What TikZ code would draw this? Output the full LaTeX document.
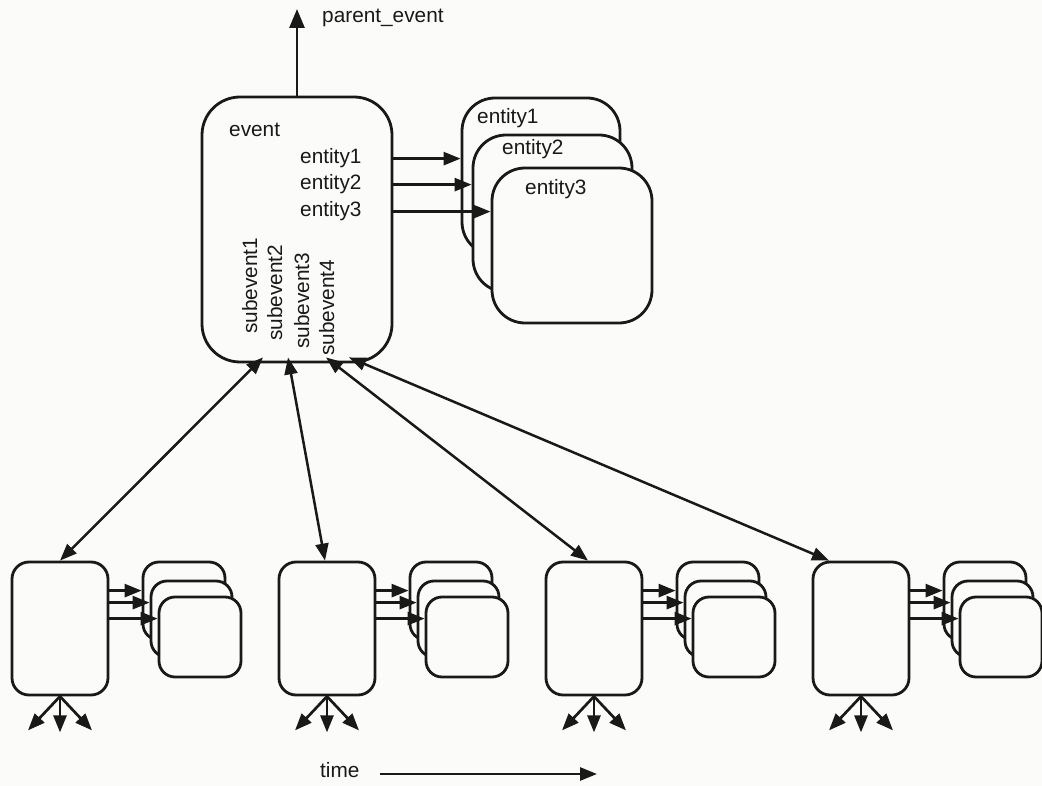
\documentclass[tikz,border=0pt]{standalone}
\usepackage{fontspec}
\setmainfont{Liberation Sans}
\usetikzlibrary{arrows.meta,calc}
\definecolor{bg}{RGB}{251,251,249}
\definecolor{ink}{RGB}{25,25,25}
\begin{document}
\begin{tikzpicture}[x=1pt,y=-1pt,
  box/.style={draw=ink, line width=2.8pt, fill=bg, rounded corners=#1, inner sep=0pt},
  box/.default=17pt,
  lbl/.style={inner sep=0pt, anchor=base west, text=ink, font=\fontsize{20.8}{24}\selectfont},
  arr/.style={draw=ink, line width=2.7pt, -{Triangle[length=17pt,width=13pt]}},
  arrb/.style={draw=ink, line width=2.5pt, {Triangle[length=17pt,width=13pt]}-{Triangle[length=17pt,width=13pt]}},
  arrp/.style={draw=ink, line width=2.8pt, -{Triangle[length=19pt,width=15pt]}}
]
\fill[bg] (0,0) rectangle (1042,786);
\useasboundingbox (0,0) rectangle (1042,786);

% main event box
\node[box=38pt, minimum width=190pt, minimum height=265pt] (ev) at (297,229.5) {};
% big entity boxes
\node[box=33pt, minimum width=158pt, minimum height=157pt] (E1) at (541,176.5) {};
\node[box=33pt, minimum width=159pt, minimum height=157pt] (E2) at (552.5,213.5) {};
\node[box=33pt, minimum width=160pt, minimum height=155pt] (E3) at (572,245.5) {};

% labels
\node[lbl] (evl) at (229,137) {event};
\node[lbl] (t1) at (300,164) {entity1};
\node[lbl] (t2) at (300,190) {entity2};
\node[lbl] (t3) at (300,217) {entity3};
\node[lbl] (E1l) at (477,124) {entity1};
\node[lbl] (E2l) at (502,155) {entity2};
\node[lbl] (E3l) at (525,195) {entity3};
\node[lbl, rotate=90] (s1) at (257,334) {subevent1};
\node[lbl, rotate=90] (s2) at (282,341) {subevent2};
\node[lbl, rotate=90] (s3) at (309,349) {subevent3};
\node[lbl, rotate=90] (s4) at (334,356) {subevent4};
\node[lbl] (pl) at (322,23) {parent\_event};

% parent arrow
\coordinate (par) at (297,9);
\draw[arrp] (ev.north) -- (par);

% entity arrows
\draw[arr] (ev.east |- t1) -- (E1.west |- t1);
\draw[arr] (ev.east |- t2) -- (E2.west |- t2);
\draw[arr] (ev.east |- t3) -- (E3.west |- t3);

% child groups
\foreach \i in {0,1,2,3}{
  \pgfmathsetmacro{\L}{12+267*\i}
  \node[box=16pt, minimum width=82pt, minimum height=78pt] (ca\i) at (\L+172,601) {};
  \node[box=16pt, minimum width=81pt, minimum height=76pt] (cb\i) at (\L+179.5,619) {};
  \node[box=16pt, minimum width=82pt, minimum height=80pt] (cc\i) at (\L+188,637) {};
  \node[box=17pt, minimum width=96pt, minimum height=133pt] (c\i) at (\L+48,628.5) {};
  \draw[arr] ([yshift=-30pt]c\i.north east) -- ([yshift=-30pt]ca\i.north west);
  \draw[arr] ([yshift=-42pt]c\i.north east) -- ([yshift=-23pt]cb\i.north west);
  \draw[arr] ([yshift=-58pt]c\i.north east) -- ([yshift=-23pt]cc\i.north west);
  \draw[arr] (c\i.south) -- ++(-32,34);
  \draw[arr] (c\i.south) -- ++(0,36);
  \draw[arr] (c\i.south) -- ++(32,34);
}

% event to subevents
\draw[arrb] ([xshift=-34pt,yshift=6pt]ev.south) -- (c0.north);
\draw[arrb] ([xshift=-9pt,yshift=6pt]ev.south) -- ([xshift=-2pt]c1.north);
\draw[arrb] ([xshift=29pt,yshift=6pt]ev.south) -- ([xshift=-6pt]c2.north);
\draw[arrb] ([xshift=52pt,yshift=6pt]ev.south) -- ([xshift=-32pt]c3.north);

% time
\node[lbl] (time) at (320,777) {time};
\coordinate (tstart) at (380,774);
\coordinate (tend) at (597,774);
\draw[arr] (tstart) -- (tend);
\end{tikzpicture}
\end{document}
